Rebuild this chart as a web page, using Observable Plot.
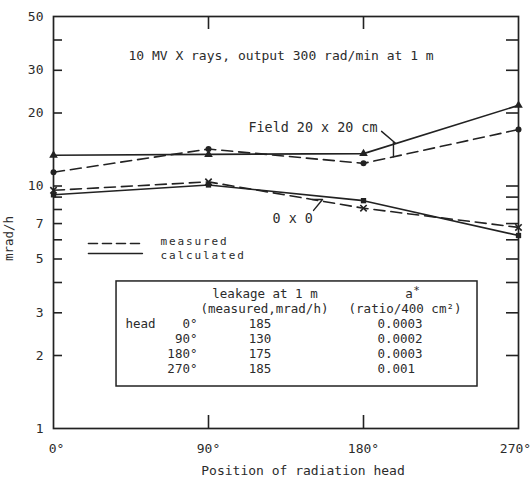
<!DOCTYPE html>
<html>
<head>
<meta charset="utf-8">
<script src="https://cdn.jsdelivr.net/npm/d3@7"></script>
<script src="https://cdn.jsdelivr.net/npm/@observablehq/plot@0.6"></script>
<style>
  html, body { margin: 0; padding: 0; background: #fff; }
  svg text { font-family: "DejaVu Sans Mono", "Liberation Mono", monospace; }
</style>
</head>
<body>
<div id="chart"></div>
<script>
// ---- data ----
const angles = [0, 90, 180, 270];
const field20Calculated = [13.4, 13.5, 13.6, 21.5];
const field20Measured   = [11.4, 14.2, 12.4, 17.1];
const field0Calculated  = [9.2, 10.1, 8.7, 6.25];
const field0Measured    = [9.6, 10.4, 8.1, 6.75];

const yTickLabels = [1, 2, 3, 5, 7, 10, 20, 30, 50];
const yMinorTicks = [2, 3, 4, 5, 6, 7, 8, 9, 10, 20, 30, 40];
const xInnerTicks = [90, 180];

const tableHeadAngles = ["0°", "90°", "180°", "270°"];
const tableLeakage = [185, 130, 175, 185];
const tableRatio = ["0.0003", "0.0002", "0.0003", "0.001"];

const titleText = "10 MV X rays, output 300 rad/min at 1 m";
const legendLabels = ["measured", "calculated"];

// ---- build tables ----
const series = (vals) => angles.map((a, i) => ({angle: a, value: vals[i]}));
const f20c = series(field20Calculated);
const f20m = series(field20Measured);
const f0c = series(field0Calculated);
const f0m = series(field0Measured);

const ink = "#222";
const textInk = "#2b2b2b";
const dash = "11,6";
const deg = d => d + "°";

// table layout (data-space anchors)
const tableTop = 3.57;   // y of first table row
const rowH = 15;         // px between rows

const tableMarks = [];
tableMarks.push(Plot.rect([0], {x1: 36.6, x2: 246.2, y1: 1.49, y2: 4.04, fill: "white", stroke: ink, strokeWidth: 1.5}));
tableMarks.push(Plot.text(["leakage at 1 m"], {x: 122.8, y: tableTop, fontSize: 12.5, fill: textInk}));
tableMarks.push(Plot.text(["a"], {x: 206.5, y: tableTop, fontSize: 12.5, fill: textInk}));
tableMarks.push(Plot.text(["*"], {x: 210.8, y: tableTop, dy: -4, fontSize: 11, fill: textInk}));
tableMarks.push(Plot.text(["(measured,mrad/h)"], {x: 122.5, y: tableTop, dy: rowH, fontSize: 12.5, fill: textInk}));
tableMarks.push(Plot.text(["(ratio/400 cm²)"], {x: 204.1, y: tableTop, dy: rowH, fontSize: 12.5, fill: textInk}));
tableMarks.push(Plot.text(["head"], {x: 41.8, y: tableTop, dy: 2 * rowH, textAnchor: "start", fontSize: 12.5, fill: textInk}));
tableHeadAngles.forEach((a, i) => {
  tableMarks.push(Plot.text([a], {x: 83.6, y: tableTop, dy: (i + 2) * rowH, textAnchor: "end", fontSize: 12.5, fill: textInk}));
  tableMarks.push(Plot.text([String(tableLeakage[i])], {x: 119.9, y: tableTop, dy: (i + 2) * rowH, fontSize: 12.5, fill: textInk}));
  tableMarks.push(Plot.text([tableRatio[i]], {x: 188.1, y: tableTop, dy: (i + 2) * rowH, textAnchor: "start", fontSize: 12.5, fill: textInk}));
});

const chart = Plot.plot({
  width: 532,
  height: 477,
  marginLeft: 53,
  marginRight: 14,
  marginTop: 16,
  marginBottom: 49,
  x: {domain: [0, 270]},
  y: {type: "log", domain: [1, 50]},
  style: {fontFamily: "'DejaVu Sans Mono', monospace", fontSize: "13px", color: textInk, background: "white", overflow: "visible"},
  marks: [
    // axes labels
    Plot.axisY(yTickLabels, {tickSize: 0, tickPadding: 10, tickFormat: d => String(d), label: null, fontSize: 13}),
    Plot.axisX([angles[0]], {tickSize: 0, tickPadding: 15, dx: 3, tickFormat: deg, label: null, fontSize: 13}),
    Plot.axisX(angles.slice(1, 3), {tickSize: 0, tickPadding: 15, tickFormat: deg, label: null, fontSize: 13}),
    Plot.axisX([angles[3]], {tickSize: 0, tickPadding: 15, dx: -3, tickFormat: deg, label: null, fontSize: 13}),
    Plot.text(["mrad/h"], {frameAnchor: "left", dx: -45, dy: 16, rotate: -90, textAnchor: "middle", lineAnchor: "middle", fontSize: 12.5, fill: textInk}),
    Plot.text(["Position of radiation head"], {frameAnchor: "bottom", dx: 17, dy: 42, textAnchor: "middle", lineAnchor: "middle", fontSize: 13, fill: textInk}),
    // inward ticks
    Plot.tickY(yMinorTicks, {y: d => d, insetRight: 456, stroke: ink, strokeWidth: 1.6}),
    Plot.tickY(yMinorTicks, {y: d => d, insetLeft: 453, stroke: ink, strokeWidth: 1.6}),
    Plot.tickX(xInnerTicks, {x: d => d, insetBottom: 399, stroke: ink, strokeWidth: 1.6}),
    Plot.tickX(xInnerTicks, {x: d => d, insetTop: 399, stroke: ink, strokeWidth: 1.6}),
    Plot.frame({stroke: ink, strokeWidth: 1.7}),
    // data lines
    Plot.line(f20c, {x: "angle", y: "value", stroke: ink, strokeWidth: 1.6}),
    Plot.line(f20m, {x: "angle", y: "value", stroke: ink, strokeWidth: 1.6, strokeDasharray: dash}),
    Plot.line(f0c, {x: "angle", y: "value", stroke: ink, strokeWidth: 1.6}),
    Plot.line(f0m, {x: "angle", y: "value", stroke: ink, strokeWidth: 1.6, strokeDasharray: dash}),
    Plot.dot(f20c, {x: "angle", y: "value", symbol: "triangle", r: 3.2, fill: ink}),
    Plot.dot(f20m, {x: "angle", y: "value", symbol: "circle", r: 3, fill: ink}),
    Plot.dot(f0c, {x: "angle", y: "value", symbol: "square", r: 3, fill: ink}),
    Plot.dot(f0m, {x: "angle", y: "value", symbol: "times", r: 3, stroke: ink, strokeWidth: 1.6}),
    // annotations
    Plot.text([titleText], {x: 43.5, y: 34.5, textAnchor: "start", fontSize: 13, fill: textInk}),
    Plot.text(["Field 20 x 20 cm"], {x: 113.2, y: 17.4, textAnchor: "start", fontSize: 13.4, fill: textInk}),
    Plot.line([[190.5, 16.8], [198.6, 15.0]], {stroke: ink, strokeWidth: 1.4}),
    Plot.line([[197.4, 15.1], [197.4, 13.2]], {stroke: ink, strokeWidth: 1.4}),
    Plot.text(["0 x 0"], {x: 127.2, y: 7.35, textAnchor: "start", fontSize: 13.4, fill: textInk}),
    Plot.line([[150.4, 8.8], [156.2, 8.8], [151.0, 7.93]], {stroke: ink, strokeWidth: 1.4}),
    // legend
    Plot.line([[20.3, 5.79], [51.6, 5.79]], {stroke: ink, strokeWidth: 1.6, strokeDasharray: "9,5"}),
    Plot.line([[20.3, 5.27], [51.6, 5.27]], {stroke: ink, strokeWidth: 1.6}),
    Plot.text([legendLabels[0]], {x: 62.1, y: 5.79, dy: -2, textAnchor: "start", fontSize: 11, fill: textInk}),
    Plot.text([legendLabels[1]], {x: 62.1, y: 5.27, dy: 2, textAnchor: "start", fontSize: 11, fill: textInk}),
    // table
    ...tableMarks
  ]
});

// typewriter-style spacing for legend words
d3.select(chart).selectAll("text")
  .filter(function () { return legendLabels.includes(this.textContent); })
  .attr("letter-spacing", "1.9");

document.getElementById("chart").appendChild(chart);
</script>
</body>
</html>
